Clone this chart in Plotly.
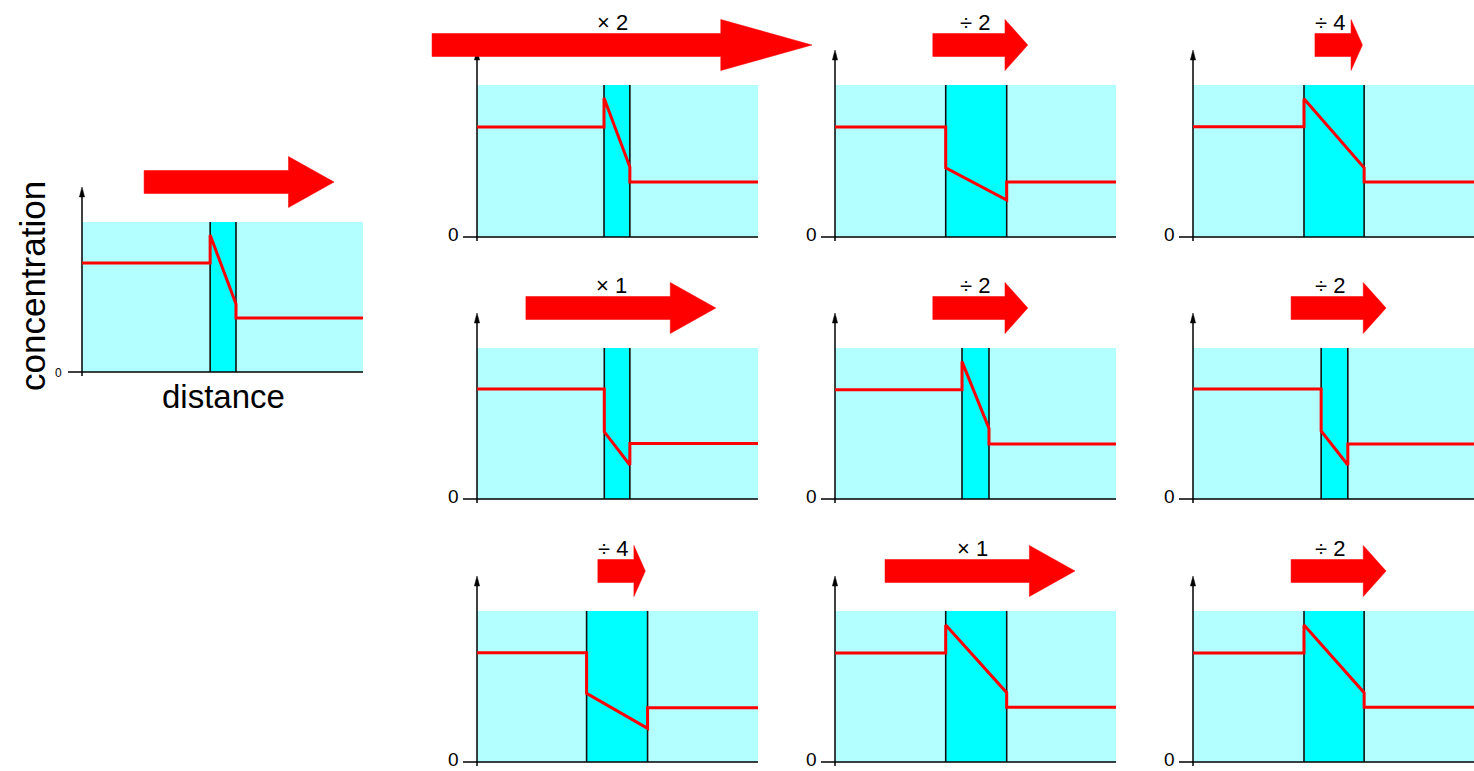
import plotly.graph_objects as go

# ---------------- data ----------------
# panel 0 = reference panel (left), panels 1..9 = 3x3 grid, row by row
flux_labels = ["", "× 2", "÷ 2", "÷ 4", "× 1", "÷ 2", "÷ 2", "÷ 4", "× 1", "÷ 2"]
flux_factor = [1, 2, 0.5, 0.25, 1, 0.5, 0.5, 0.25, 1, 0.5]
arrow_start = [2.21, -1.60, 3.48, 4.34, 1.74, 3.48, 3.49, 4.30, 1.78, 3.49]
label_x = [None, 4.82, 4.98, 4.88, 4.79, 4.98, 4.88, 4.85, 4.90, 4.88]

membrane_left = [4.56, 4.52, 3.94, 3.95, 4.53, 4.52, 4.56, 3.90, 3.94, 3.95]
membrane_right = [5.48, 5.44, 6.11, 6.09, 5.44, 5.48, 5.51, 6.07, 6.11, 6.09]

conc_left = [0.727, 0.724, 0.724, 0.726, 0.728, 0.724, 0.728, 0.724, 0.722, 0.722]
conc_entry = [0.913, 0.914, 0.455, 0.910, 0.445, 0.910, 0.450, 0.455, 0.907, 0.907]
conc_exit = [0.453, 0.460, 0.243, 0.455, 0.225, 0.468, 0.225, 0.223, 0.459, 0.459]
conc_right = [0.360, 0.362, 0.362, 0.362, 0.368, 0.364, 0.364, 0.360, 0.362, 0.362]

X_MAX = 10.0          # distance axis length
BASE_ARROW = 6.76     # arrow length for a flux factor of 1 (distance units)

# ---------------- layout / style ----------------
W, H = 1474, 771
PX_PER_UNIT = 28.1
origin_x = [82, 477, 835, 1193, 477, 835, 1193, 477, 835, 1193]
zero_y = [372, 237, 237, 237, 499, 499, 499, 762, 762, 762]
top_y = [222, 85, 85, 85, 348, 348, 348, 611, 611, 611]

LIGHT = "#b3ffff"
CYAN = "#00ffff"
RED = "#ff0000"
FONT = "Liberation Sans, Arial, Helvetica, sans-serif"

fig = go.Figure()
annotations = []
layout_axes = {}

for i in range(10):
    k = i + 1
    xa = "x" if k == 1 else f"x{k}"
    ya = "y" if k == 1 else f"y{k}"
    xkey = "xaxis" if k == 1 else f"xaxis{k}"
    ykey = "yaxis" if k == 1 else f"yaxis{k}"
    a = origin_x[i]
    z = zero_y[i]
    h = z - top_y[i]
    s = PX_PER_UNIT
    layout_axes[xkey] = dict(domain=[0, 1], range=[-a / s, (W - a) / s], visible=False,
                             fixedrange=True, anchor=ya)
    layout_axes[ykey] = dict(domain=[0, 1], range=[(z - H) / h, z / h], visible=False,
                             fixedrange=True, anchor=xa)
    px_y = 1.0 / h   # one pixel in y units
    px_x = 1.0 / s   # one pixel in x units

    m0, m1 = membrane_left[i], membrane_right[i]
    common = dict(xaxis=xa, yaxis=ya, hoverinfo="skip", showlegend=False)

    # background medium
    fig.add_trace(go.Scatter(x=[0, X_MAX, X_MAX, 0, 0], y=[0, 0, 1, 1, 0], mode="lines",
                             fill="toself", fillcolor=LIGHT, line=dict(width=0), **common))
    # membrane
    fig.add_trace(go.Scatter(x=[m0, m1, m1, m0, m0], y=[0, 0, 1, 1, 0], mode="lines",
                             fill="toself", fillcolor=CYAN, line=dict(width=0), **common))
    fig.add_trace(go.Scatter(x=[m0, m0, None, m1, m1], y=[0, 1, None, 0, 1], mode="lines",
                             line=dict(color="#111111", width=1.6), **common))
    # axes
    fig.add_trace(go.Scatter(x=[-14 * px_x, X_MAX, None, 0, 0],
                             y=[0, 0, None, -4 * px_y, 1 + 26 * px_y], mode="lines",
                             line=dict(color="black", width=1.5), **common))
    tip = 1 + 35 * px_y
    fig.add_trace(go.Scatter(x=[-2.6 * px_x, 2.6 * px_x, 0, -2.6 * px_x],
                             y=[tip - 10 * px_y, tip - 10 * px_y, tip, tip - 10 * px_y],
                             mode="lines", fill="toself", fillcolor="black",
                             line=dict(color="black", width=0.5), **common))
    # concentration profile
    fig.add_trace(go.Scatter(x=[0, m0, m0, m1, m1, X_MAX],
                             y=[conc_left[i], conc_left[i], conc_entry[i], conc_exit[i],
                                conc_right[i], conc_right[i]],
                             mode="lines", line=dict(color=RED, width=3), **common))
    # flux arrow
    L = flux_factor[i] * BASE_ARROW
    x0 = arrow_start[i]
    xh = x0 + 0.76 * L
    xt = x0 + L
    yc = 1 + 40 * px_y
    bh = 11.5 * px_y
    hh = 25.5 * px_y
    fig.add_trace(go.Scatter(x=[x0, xh, xh, xt, xh, xh, x0, x0],
                             y=[yc - bh, yc - bh, yc - hh, yc, yc + hh, yc + bh, yc + bh, yc - bh],
                             mode="lines", fill="toself", fillcolor=RED,
                             line=dict(color=RED, width=0.5), **common))

    # zero label
    annotations.append(dict(x=-24 * px_x, y=-1 * px_y if i == 0 else 3 * px_y, xref=xa, yref=ya,
                            text="0", showarrow=False, borderpad=0,
                            xanchor="center", yanchor="middle",
                            font=dict(family=FONT, size=12 if i == 0 else 19, color="black")))
    if flux_labels[i]:
        annotations.append(dict(x=label_x[i], y=1 + 63 * px_y, xref=xa, yref=ya,
                                text=flux_labels[i], showarrow=False,
                                xanchor="center", yanchor="middle",
                                font=dict(family=FONT, size=22, color="black")))
    if i == 0:
        annotations.append(dict(x=(223 - a) * px_x, y=-24 * px_y, xref=xa, yref=ya,
                                text="distance", showarrow=False, xanchor="center",
                                yanchor="middle", font=dict(family=FONT, size=33, color="black")))
        annotations.append(dict(x=(32 - a) * px_x, y=(z - 286) * px_y, xref=xa, yref=ya,
                                text="concentration", showarrow=False, textangle=-90,
                                xanchor="center", yanchor="middle",
                                font=dict(family=FONT, size=35, color="black")))

fig.update_layout(width=W, height=H, margin=dict(l=0, r=0, t=0, b=0, pad=0),
                  paper_bgcolor="white", plot_bgcolor="rgba(0,0,0,0)",
                  hovermode=False, annotations=annotations, **layout_axes)

fig.write_html("out.html", config={"displayModeBar": False},
               post_script="document.body.style.margin='0px';document.body.style.overflow='hidden';")
